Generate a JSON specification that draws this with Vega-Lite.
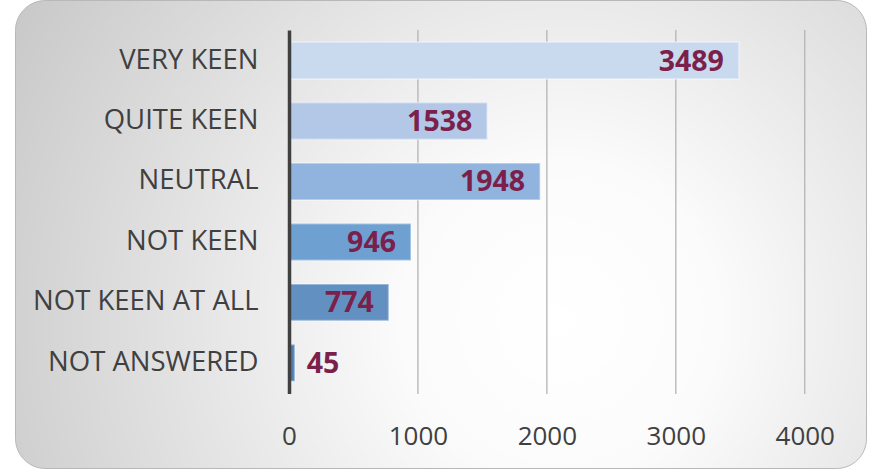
{
  "$schema": "https://vega.github.io/schema/vega-lite/v6.json",
  "width": 851,
  "height": 468,
  "autosize": {"type": "none"},
  "padding": {"left": 15, "top": 0, "right": 4, "bottom": 3},
  "background": "#ffffff",
  "view": {
    "cornerRadius": 30,
    "stroke": "#b8b8b8",
    "strokeWidth": 1,
    "fill": {
      "gradient": "radial",
      "x1": 0.64, "y1": 0.6, "r1": 0,
      "x2": 0.64, "y2": 0.6, "r2": 0.74,
      "stops": [
        {"offset": 0, "color": "#ffffff"},
        {"offset": 0.25, "color": "#fbfbfb"},
        {"offset": 1, "color": "#c8c8c8"}
      ]
    }
  },
  "datasets": {
    "answers": [
      {"answer": "VERY KEEN", "count": 3489},
      {"answer": "QUITE KEEN", "count": 1538},
      {"answer": "NEUTRAL", "count": 1948},
      {"answer": "NOT KEEN", "count": 946},
      {"answer": "NOT KEEN AT ALL", "count": 774},
      {"answer": "NOT ANSWERED", "count": 45}
    ],
    "grid": [
      {"tick": 1000}, {"tick": 2000}, {"tick": 3000}, {"tick": 4000}
    ]
  },
  "config": {
    "font": "Open Sans"
  },
  "layer": [
    {
      "data": {"name": "grid"},
      "mark": {"type": "rule", "color": "#b4b4b4", "strokeWidth": 1.3},
      "encoding": {
        "x": {
          "field": "tick", "type": "quantitative",
          "scale": {"domain": [-2125, 4475], "nice": false, "zero": false},
          "axis": {
            "orient": "bottom", "values": [0, 1000, 2000, 3000, 4000], "format": "d",
            "offset": -45, "tickSize": 0, "domain": false, "grid": false,
            "labelPadding": 0, "labelFontSize": 26, "labelColor": "#404040",
            "title": null, "labelFlush": false
          }
        },
        "y": {"datum": 0, "type": "quantitative", "scale": {"domain": [0, 1], "range": [30, 394]}, "axis": null},
        "y2": {"datum": 1}
      }
    },
    {
      "data": {"name": "answers"},
      "layer": [
        {
          "mark": {"type": "bar", "stroke": "#ffffff", "strokeOpacity": 0.35, "strokeWidth": 2},
          "encoding": {
            "x": {
              "field": "count", "type": "quantitative",
              "scale": {"domain": [-2125, 4475], "nice": false, "zero": false},
              "axis": {
                "orient": "bottom", "values": [0, 1000, 2000, 3000, 4000], "format": "d",
                "offset": -45, "tickSize": 0, "domain": false, "grid": false,
                "labelPadding": 0, "labelFontSize": 26, "labelColor": "#404040",
                "title": null, "labelFlush": false
              }
            },
            "y": {
              "field": "answer", "type": "nominal", "sort": null,
              "scale": {"range": [30, 393.4], "paddingInner": 0.39, "paddingOuter": 0.2},
              "axis": {
                "orient": "left", "offset": -274, "title": null, "zindex": 3,
                "domainColor": "#404040", "domainWidth": 3.5,
                "tickSize": 0, "labelPadding": 31, "labelFontSize": 27.5,
                "labelColor": "#404040", "labelLimit": 400
              }
            },
            "color": {
              "field": "answer", "type": "nominal", "sort": null, "legend": null,
              "scale": {
                "domain": ["VERY KEEN", "QUITE KEEN", "NEUTRAL", "NOT KEEN", "NOT KEEN AT ALL", "NOT ANSWERED"],
                "range": ["#c9d9ee", "#b3c8e7", "#90b4de", "#6ea1d2", "#6290c0", "#4f7eb4"]
              }
            }
          }
        },
        {
          "transform": [{"filter": "datum.count >= 200"}],
          "mark": {"type": "text", "align": "right", "baseline": "middle", "dx": -15, "dy": 1, "fontSize": 28.5, "fontWeight": "bold", "color": "#7b1f4b"},
          "encoding": {
            "x": {"field": "count", "type": "quantitative"},
            "y": {"field": "answer", "type": "nominal", "sort": null},
            "text": {"field": "count", "type": "quantitative", "format": "d"}
          }
        },
        {
          "transform": [{"filter": "datum.count < 200"}],
          "mark": {"type": "text", "align": "left", "baseline": "middle", "dx": 12, "dy": 1, "fontSize": 28.5, "fontWeight": "bold", "color": "#7b1f4b"},
          "encoding": {
            "x": {"field": "count", "type": "quantitative"},
            "y": {"field": "answer", "type": "nominal", "sort": null},
            "text": {"field": "count", "type": "quantitative", "format": "d"}
          }
        }
      ]
    }
  ],
  "resolve": {"scale": {"y": "independent"}}
}
